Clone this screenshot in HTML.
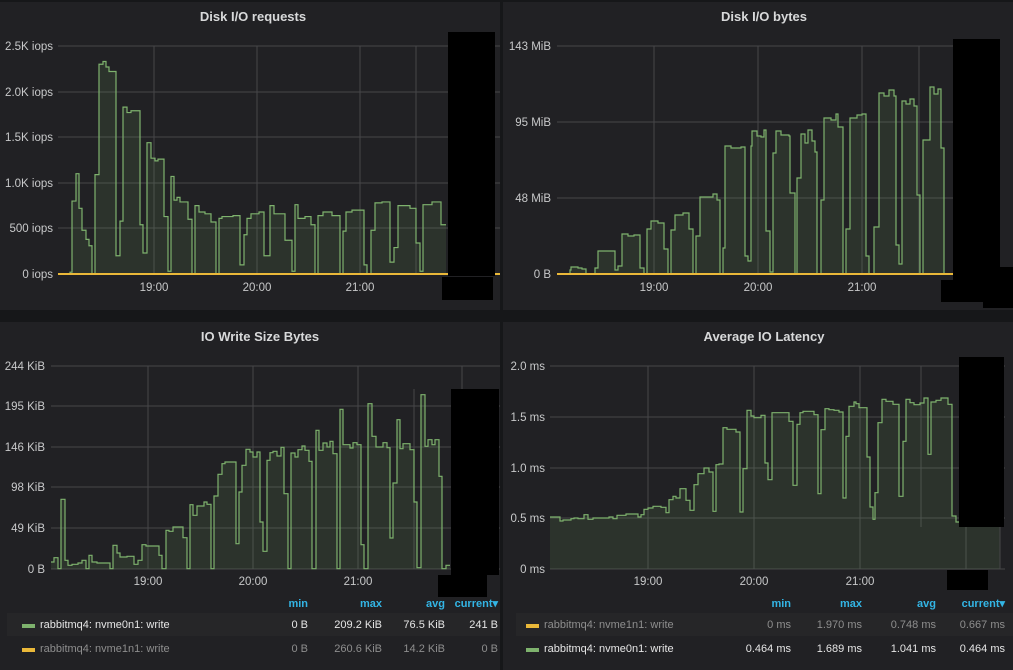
<!DOCTYPE html>
<html><head><meta charset="utf-8"><style>
body{margin:0;background:#161719;width:1013px;height:670px;overflow:hidden;font-family:"Liberation Sans",sans-serif}
svg{display:block}
text{font-family:"Liberation Sans",sans-serif}
</style></head><body>
<svg id="s" width="1013" height="670" xmlns="http://www.w3.org/2000/svg">
<rect x="0" y="0" width="1013" height="670" fill="#161719"/>
<rect x="0" y="2" width="500" height="308" fill="#212124"/>
<rect x="503" y="2" width="510" height="308" fill="#212124"/>
<rect x="0" y="322" width="500" height="348" fill="#212124"/>
<rect x="503" y="322" width="510" height="348" fill="#212124"/>
<g fill="#d8d9da" font-size="13" font-weight="bold" text-anchor="middle">
<text x="253" y="21">Disk I/O requests</text>
<text x="764" y="21">Disk I/O bytes</text>
<text x="260" y="341">IO Write Size Bytes</text>
<text x="764" y="341">Average IO Latency</text>
</g>
<g id="g"></g>
</svg>
<script>
var g=document.getElementById('g'),h='';
function L(x1,y1,x2,y2){h+='<line x1="'+x1+'" y1="'+y1+'" x2="'+x2+'" y2="'+y2+'" stroke="#464649" stroke-width="1"/>';}
function T(x,y,t,a,c){h+='<text x="'+x+'" y="'+y+'" font-size="11.5" fill="'+(c||'#c8c9ca')+'" text-anchor="'+(a||'end')+'">'+t+'</text>';}
function R(x,y,w,hh,c){h+='<rect x="'+x+'" y="'+y+'" width="'+w+'" height="'+hh+'" fill="'+c+'"/>';}
function series(pts,base,close){var d='M'+pts[0][0]+','+base;pts.forEach(function(p){d+=' L'+p[0]+','+p[1];});d+=' L'+pts[pts.length-1][0]+','+base+'Z';
 h+='<path d="'+d+'" fill="rgba(126,178,109,0.12)"/>';var l='M'+pts[0][0]+','+pts[0][1];pts.forEach(function(p){l+=' L'+p[0]+','+p[1];});
 h+='<path d="'+l+'" fill="none" stroke="#7eb26d" stroke-width="1.2"/>';}
function steps(a){var o=[];for(var i=0;i<a.length;i++){o.push(a[i]);if(i+1<a.length)o.push([a[i+1][0],a[i][1]]);}return o;}
// TL
[46,92,137,183,228,274].forEach(function(y){L(58,y,500,y);});
[154,257,360,416].forEach(function(x){L(x,46,x,274);});
[[46,'2.5K iops'],[92,'2.0K iops'],[137,'1.5K iops'],[183,'1.0K iops'],[228,'500 iops'],[274,'0 iops']].forEach(function(a){T(53,a[0]+4,a[1]);});
[[154,'19:00'],[257,'20:00'],[360,'21:00']].forEach(function(a){T(a[0],291,a[1],'middle');});
var tl=[[58,0],[70,20],[72,800],[76,1100],[79,720],[82,480],[86,380],[89,310],[92,0],[95,1090],[99,2300],[103,2330],[106,2270],[109,2220],[116,200],[120,580],[123,1830],[127,1770],[131,1790],[140,540],[143,230],[147,1440],[151,1270],[155,1240],[158,1260],[164,630],[168,30],[171,1070],[174,810],[177,840],[180,790],[188,600],[192,0],[195,750],[199,680],[205,660],[211,570],[216,0],[219,610],[222,630],[233,640],[240,100],[244,430],[247,610],[251,660],[259,680],[264,200],[270,750],[274,660],[285,370],[292,30],[295,760],[298,610],[305,630],[311,540],[315,0],[318,640],[323,680],[332,640],[340,0],[343,470],[346,680],[352,700],[364,100],[367,0],[371,480],[375,780],[382,790],[390,130],[394,290],[398,750],[410,720],[416,340],[420,30],[423,760],[432,790],[441,540],[446,540]].map(function(p){return [p[0],274-p[1]*0.0912];});
series(steps(tl),274);
h+='<line x1="58" y1="274" x2="500" y2="274" stroke="#eab839" stroke-width="2"/>';
R(448,32,47,244,'#000');R(442,277,51,23,'#000');
// TR
[46,122,198,274].forEach(function(y){L(557,y,1000,y);});
[654,758,862,919].forEach(function(x){L(x,46,x,274);});
[[46,'143 MiB'],[122,'95 MiB'],[198,'48 MiB'],[274,'0 B']].forEach(function(a){T(551,a[0]+4,a[1]);});
[[654,'19:00'],[758,'20:00'],[862,'21:00']].forEach(function(a){T(a[0],291,a[1],'middle');});
var tr=[[557,274],[570,270],[571,267],[578,268],[582,269],[586,274],[595,268],[598,251],[615,270],[618,266],[622,234],[628,236],[634,235],[640,268],[644,274],[647,229],[651,221],[658,223],[664,249],[668,274],[671,230],[675,215],[683,213],[689,229],[693,274],[696,236],[700,197],[713,194],[717,200],[720,274],[723,248],[725,146],[731,148],[741,147],[745,256],[748,261],[751,146],[752,131],[757,136],[761,137],[764,130],[766,231],[770,272],[773,153],[776,131],[781,135],[789,136],[790,193],[795,274],[797,178],[801,134],[805,143],[808,130],[812,141],[815,152],[817,274],[821,200],[824,118],[831,120],[836,114],[838,127],[843,274],[846,229],[850,118],[857,115],[862,114],[866,256],[869,274],[874,227],[879,93],[884,96],[889,90],[894,96],[896,245],[899,264],[902,101],[906,104],[910,99],[914,106],[917,195],[920,274],[923,140],[930,87],[934,94],[938,89],[941,148],[944,274],[950,274]];
series(steps(tr),274);
h+='<line x1="557" y1="274" x2="1000" y2="274" stroke="#eab839" stroke-width="2"/>';
R(953,39,47,241,'#000');R(983,267,30,41,'#000');R(941,280,42,22,'#000');
// BL
function zc(a,ox,oy){return a.map(function(p){return [Math.round(p[0]/3+ox),Math.round((p[1]/3+oy)*10)/10];});}
[366,406,447,487,528,569].forEach(function(y){L(51,y,500,y);});
[148,253,358,462].forEach(function(x){L(x,366,x,569);});L(414,389,414,569);
[[366,'244 KiB'],[406,'195 KiB'],[447,'146 KiB'],[487,'98 KiB'],[528,'49 KiB'],[569,'0 B']].forEach(function(a){T(45,a[0]+4,a[1]);});
[[148,'19:00'],[253,'20:00'],[358,'21:00']].forEach(function(a){T(a[0],585,a[1],'middle');});
var bl=zc([[153,720],[163,720],[163,707],[173,707],[173,740],[183,740],[183,532],[195,532],[195,715],[205,715],[205,730],[215,730],[215,727],[235,727],[235,723],[247,723],[247,715],[257,715],[257,740],[267,740],[267,700],[277,700],[277,720],[290,720],[290,723],[330,723],[330,740],[340,740],[340,670],[350,670],[350,693],[360,693],[360,705],[380,705],[380,703],[403,703],[403,727],[413,727],[413,715],[425,715],[425,668],[437,668],[437,672],[477,672],[477,700],[487,700],[487,740],[497,740],[497,625],[507,625],[507,628],[520,628],[520,615],[550,615],[550,647],[560,647],[560,740],[570,740],[570,548],[580,548],[580,580],[592,580],[592,552],[612,552],[612,540],[620,540],[620,547],[633,547],[633,740],[643,740],[643,522],[655,522],[655,457],[665,457],[665,425],[675,425],[675,420],[707,420],[707,665],[717,665],[717,510],[727,510],[727,430],[739,430],[739,382],[750,382],[750,390],[760,390],[760,405],[770,405],[770,390],[780,390],[780,600],[790,600],[790,688],[800,688],[800,415],[810,415],[810,392],[820,392],[820,388],[832,388],[832,402],[843,402],[843,376],[853,376],[853,515],[863,515],[863,740],[873,740],[873,393],[885,393],[885,405],[895,405],[895,383],[905,383],[905,372],[915,372],[915,385],[928,385],[928,418],[937,418],[937,740],[947,740],[947,325],[957,325],[957,385],[968,385],[968,363],[980,363],[980,375],[990,375],[990,358],[1000,358],[1000,395],[1010,395],[1010,740],[1020,740],[1020,262],[1030,262],[1030,368],[1050,368],[1050,378],[1060,378],[1060,362],[1072,362],[1072,368],[1083,368],[1083,668],[1093,668],[1093,740],[1105,740],[1105,245],[1117,245],[1117,343],[1127,343],[1127,375],[1150,375],[1150,362],[1160,362],[1160,377],[1170,377],[1170,648],[1180,648],[1180,483],[1190,483],[1190,293],[1200,293],[1200,380],[1210,380],[1210,365],[1230,365],[1230,383],[1242,383],[1242,540],[1252,540],[1252,737],[1262,737],[1262,218],[1275,218],[1275,373],[1285,373],[1285,353],[1295,353],[1295,368],[1305,368],[1305,353],[1317,353],[1317,463],[1327,463],[1327,740],[1337,740],[1337,730],[1350,730]],0,322);
series(bl,569);
R(451,389,48,186,'#000');R(438,575,49,22,'#000');
// BR
[366,417,468,518,569].forEach(function(y){L(550,y,1005,y);});
[648,754,860,966].forEach(function(x){L(x,366,x,569);});L(921,366,921,527);
[[366,'2.0 ms'],[417,'1.5 ms'],[468,'1.0 ms'],[518,'0.5 ms'],[569,'0 ms']].forEach(function(a){T(545,a[0]+4,a[1]);});
[[648,'19:00'],[754,'20:00'],[860,'21:00']].forEach(function(a){T(a[0],585,a[1],'middle');});
var br=zc([[132,585],[162,585],[162,597],[172,597],[172,594],[195,594],[195,590],[205,590],[205,588],[215,588],[215,590],[235,590],[235,578],[247,578],[247,592],[260,592],[260,588],[310,588],[310,585],[322,585],[322,590],[332,590],[332,580],[360,580],[360,576],[395,576],[395,585],[405,585],[405,578],[415,578],[415,562],[427,562],[427,558],[440,558],[440,553],[465,553],[465,556],[480,556],[480,572],[490,572],[490,533],[500,533],[500,523],[510,523],[510,528],[523,528],[523,500],[540,500],[540,535],[553,535],[553,565],[565,565],[565,488],[575,488],[575,455],[595,455],[595,438],[608,438],[608,450],[620,450],[620,568],[630,568],[630,428],[640,428],[640,426],[650,426],[650,317],[662,317],[662,322],[690,322],[690,330],[702,330],[702,570],[712,570],[712,440],[722,440],[722,265],[735,265],[735,282],[745,282],[745,287],[765,287],[765,280],[777,280],[777,423],[787,423],[787,473],[797,473],[797,272],[850,272],[850,298],[862,298],[862,490],[872,490],[872,307],[882,307],[882,272],[890,272],[890,268],[925,268],[925,278],[935,278],[935,515],[945,515],[945,323],[957,323],[957,260],[970,260],[970,263],[985,263],[985,265],[1000,265],[1000,270],[1010,270],[1010,528],[1020,528],[1020,343],[1030,343],[1030,253],[1043,253],[1043,240],[1050,240],[1050,245],[1060,245],[1060,257],[1083,257],[1083,405],[1093,405],[1093,555],[1100,555],[1100,592],[1107,592],[1107,512],[1117,512],[1117,302],[1127,302],[1127,232],[1140,232],[1140,238],[1160,238],[1160,247],[1180,247],[1180,523],[1190,523],[1190,358],[1200,358],[1200,232],[1212,232],[1212,242],[1225,242],[1225,248],[1242,248],[1242,243],[1255,243],[1255,228],[1265,228],[1265,397],[1275,397],[1275,240],[1290,240],[1290,235],[1305,235],[1305,228],[1327,228],[1327,247],[1337,247],[1337,582],[1350,582],[1350,600],[1360,600]],506,322);
series(br,569);
R(959,527,41,42,'rgba(126,178,109,0.12)');L(1000,527,1000,569);
R(959,357,45,170,'#000');R(947,570,41,20,'#000');
// legends
var blue='#33b5e5';
function hd(xs,labs){labs.forEach(function(t,i){h+='<text x="'+xs[i]+'" y="607" font-size="11" font-weight="bold" fill="'+blue+'" text-anchor="end">'+t+'</text>';});}
hd([308,382,445,498],['min','max','avg','current▾']);
hd([791,862,936,1005],['min','max','avg','current▾']);
R(7,613,493,23,'#262628');R(516,613,497,23,'#262628');
function row(y,sx,c,name,vals,xs,tc){R(sx,y-4,13,4,c);h+='<text x="'+(sx+18)+'" y="'+y+'" font-size="11" fill="'+tc+'">'+name+'</text>';vals.forEach(function(v,i){h+='<text x="'+xs[i]+'" y="'+y+'" font-size="11" fill="'+tc+'" text-anchor="end">'+v+'</text>';});}
row(628,22,'#7eb26d','rabbitmq4: nvme0n1: write',['0 B','209.2 KiB','76.5 KiB','241 B'],[308,382,445,498],'#e6e6e6');
row(652,22,'#eab839','rabbitmq4: nvme1n1: write',['0 B','260.6 KiB','14.2 KiB','0 B'],[308,382,445,498],'#8e8e8e');
row(628,526,'#eab839','rabbitmq4: nvme1n1: write',['0 ms','1.970 ms','0.748 ms','0.667 ms'],[791,862,936,1005],'#8e8e8e');
row(652,526,'#7eb26d','rabbitmq4: nvme0n1: write',['0.464 ms','1.689 ms','1.041 ms','0.464 ms'],[791,862,936,1005],'#e6e6e6');
g.innerHTML=h;
</script>
</body></html>
